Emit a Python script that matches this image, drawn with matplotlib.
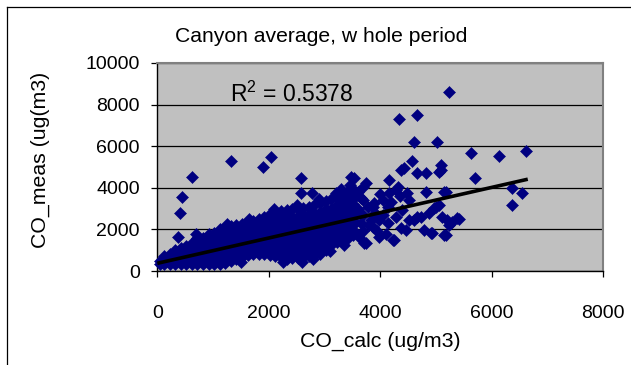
import matplotlib.pyplot as plt
from matplotlib.lines import Line2D

plt.rcParams['font.family'] = ['Liberation Sans', 'DejaVu Sans']
plt.rcParams['mathtext.fontset'] = 'custom'
plt.rcParams['mathtext.rm'] = 'Liberation Sans'

# dense band of points, one column of CO_meas values per CO_calc value
cluster_calc = [40, 120, 220, 320, 420, 520, 620, 720, 820, 920, 1020, 1120,
                1220, 1320, 1420, 1520, 1620, 1720, 1820, 1920, 2020, 2120,
                2220, 2320, 2420, 2520, 2620, 2720, 2820, 2920, 3020, 3120,
                3220, 3320, 3420, 3520]
cluster_meas = [
    [350, 500],
    [340, 560, 720],
    [330, 580, 830],
    [330, 580, 830, 1030],
    [340, 590, 840, 1100],
    [330, 580, 830, 1080, 1200],
    [340, 590, 840, 1090, 1340],
    [330, 580, 830, 1080, 1330, 1580],
    [340, 590, 840, 1090, 1340, 1600],
    [330, 580, 830, 1080, 1330, 1580, 1760],
    [350, 600, 850, 1100, 1350, 1600, 1850],
    [360, 610, 860, 1110, 1360, 1610, 1860, 2000],
    [400, 650, 900, 1150, 1400, 1650, 1900, 2080],
    [480, 730, 980, 1230, 1480, 1730, 1980, 2150],
    [580, 830, 1080, 1330, 1580, 1830, 2080, 2200],
    [650, 900, 1150, 1400, 1650, 1900, 2150, 2250],
    [760, 1010, 1260, 1510, 1760, 2010, 2260, 2340],
    [840, 1090, 1340, 1590, 1840, 2090, 2340, 2400],
    [820, 1070, 1320, 1570, 1820, 2070, 2320, 2520],
    [800, 1050, 1300, 1550, 1800, 2050, 2300, 2600],
    [760, 1010, 1260, 1510, 1760, 2010, 2260, 2510, 2760],
    [720, 970, 1220, 1470, 1720, 1970, 2220, 2470, 2820],
    [660, 910, 1160, 1410, 1660, 1910, 2160, 2410, 2660, 2880],
    [600, 850, 1100, 1350, 1600, 1850, 2100, 2350, 2600, 2930],
    [620, 870, 1120, 1370, 1620, 1870, 2120, 2370, 2620, 2960],
    [640, 890, 1140, 1390, 1640, 1890, 2140, 2390, 2640, 2980],
    [680, 930, 1180, 1430, 1680, 1930, 2180, 2430, 2680, 3010],
    [720, 970, 1220, 1470, 1720, 1970, 2220, 2470, 2720, 3080],
    [780, 1030, 1280, 1530, 1780, 2030, 2280, 2530, 2780, 3150],
    [840, 1090, 1340, 1590, 1840, 2090, 2340, 2590, 2840, 3250],
    [1000, 1250, 1500, 1750, 2000, 2250, 2500, 2750, 3000, 3350],
    [1240, 1490, 1740, 1990, 2240, 2490, 2740, 2990, 3450],
    [1400, 1650, 1900, 2150, 2400, 2650, 2900, 3150, 3550],
    [1480, 1730, 1980, 2230, 2480, 2730, 2980, 3230, 3480, 3750],
    [1600, 1850, 2100, 2350, 2600, 2850, 3100, 3350, 3600, 3850],
    [1720, 1970, 2220, 2470, 2720, 2970, 3220, 3470, 3720, 3950],
]

# scattered points outside the dense band (and ragged band edges)
scatter_calc = [615, 436, 406, 378, 1331, 1897, 2046, 2583, 2583, 2773,
                5236, 4342, 4658, 4610, 5016, 5624, 6131, 6626, 5696, 6369,
                6548, 6369, 5088, 4580, 4431, 5057, 4669, 4819, 3537, 3477,
                3746, 3685, 4163, 4312, 4282, 4372, 3657, 3895, 4490, 4819,
                5147, 5177, 4133, 4730, 4968, 4998, 4610, 5385, 5415, 5206,
                4372, 4909, 5147, 5177, 4937, 4789, 4669, 4878, 4252, 4222,
                3716, 3746, 3984, 3626, 3537, 3835, 3984, 4133, 3864, 3537,
                3776, 3864, 3685, 4043, 4163, 4521, 4401, 4282, 4521, 4461,
                3209, 3328, 5057, 5117, 5296, 5236, 5088, 3600, 3700, 3800,
                3650, 3900, 3950, 3700, 4050, 4100, 4200, 4350, 4000, 3600,
                700, 1250, 1650, 2100, 2500, 2900, 3300, 3450,
                1500, 2250, 2600, 2800, 3100, 3350]
scatter_meas = [4530, 3570, 2800, 1650, 5290, 4990, 5500, 4460, 3740, 3740,
                8620, 7290, 7500, 6220, 6220, 5660, 5540, 5780, 4490, 4010,
                3740, 3150, 5100, 5300, 4940, 4770, 4700, 4700, 4460, 4530,
                4220, 4050, 4380, 4050, 3890, 4860, 3500, 3250, 3740, 3810,
                3810, 3810, 3090, 2610, 3010, 3090, 2450, 2530, 2490, 2450,
                2050, 1810, 1730, 1730, 1810, 1970, 2610, 2770, 1490, 1490,
                1330, 1330, 1650, 1650, 1810, 2450, 2450, 2290, 2130, 2770,
                3090, 3090, 3410, 3410, 3740, 3410, 2930, 2610, 2450, 1970,
                3740, 3250, 3170, 2610, 2370, 2210, 4860, 3000, 2700, 2200,
                2300, 2800, 1900, 1900, 2700, 1800, 3300, 3600, 3700, 3800,
                1800, 2250, 2500, 3000, 3150, 3450, 3950, 4150,
                450, 420, 450, 600, 950, 1250]

# linear trend line
trend_intercept = 370
trend_slope = 0.608
trend_end = 6650

fig = plt.figure(figsize=(6.31, 3.65), dpi=100)
W, H = 631, 365

# chart border (cut off on right and bottom)
fig.add_artist(Line2D([7 / W, 1], [1 - 7 / H, 1 - 7 / H], color='black', lw=0.9))
fig.add_artist(Line2D([7 / W, 7 / W], [0, 1 - 7 / H], color='black', lw=0.9))

left, right, top, bottom = 157.3, 603, 63, 271
ax = fig.add_axes([left / W, 1 - bottom / H, (right - left) / W, (bottom - top) / H])
ax.set_facecolor('#c0c0c0')

all_x = []
all_y = []
for cx, ys in zip(cluster_calc, cluster_meas):
    for y in ys:
        all_x.append(cx)
        all_y.append(y)
all_x += scatter_calc
all_y += scatter_meas

ax.plot(all_x, all_y, linestyle='none', marker='D', markersize=6.3,
        color='#000080', markeredgewidth=0.4, clip_on=False, zorder=3)

ax.plot([0, trend_end], [trend_intercept, trend_intercept + trend_slope * trend_end],
        color='black', lw=2.6, solid_capstyle='butt', zorder=4)

ax.set_xlim(0, 8000)
ax.set_ylim(0, 10000)
ax.set_xticks(range(0, 8001, 2000))
ax.set_yticks(range(0, 10001, 2000))
ax.yaxis.grid(True, color='black', lw=0.9)
ax.set_axisbelow(True)

for side in ['top', 'right']:
    ax.spines[side].set_color('#808080')
    ax.spines[side].set_linewidth(1.5)
for side in ['left', 'bottom']:
    ax.spines[side].set_color('black')
    ax.spines[side].set_linewidth(1.0)

ax.tick_params(axis='both', direction='out', length=4.5, width=0.9, labelsize=14)
ax.tick_params(axis='y', pad=8)
ax.tick_params(axis='x', pad=20)

fig.text(321 / W, 1 - 41.7 / H, 'Canyon average, w hole period', fontsize=15.2,
         ha='center', va='baseline')
fig.text(230 / W, 1 - 101.7 / H, r'R$^{2}$ = 0.5378', fontsize=16.5,
         ha='left', va='baseline')
fig.text((left + right) / 2 / W, 1 - 341 / H, 'CO_calc (ug/m3)', fontsize=15.3,
         ha='center', va='center')
fig.text(40 / W, 1 - 160 / H, 'CO_meas (ug(m3)', fontsize=15.3, rotation=90,
         ha='center', va='center')

fig.savefig('out.png', dpi=100)
